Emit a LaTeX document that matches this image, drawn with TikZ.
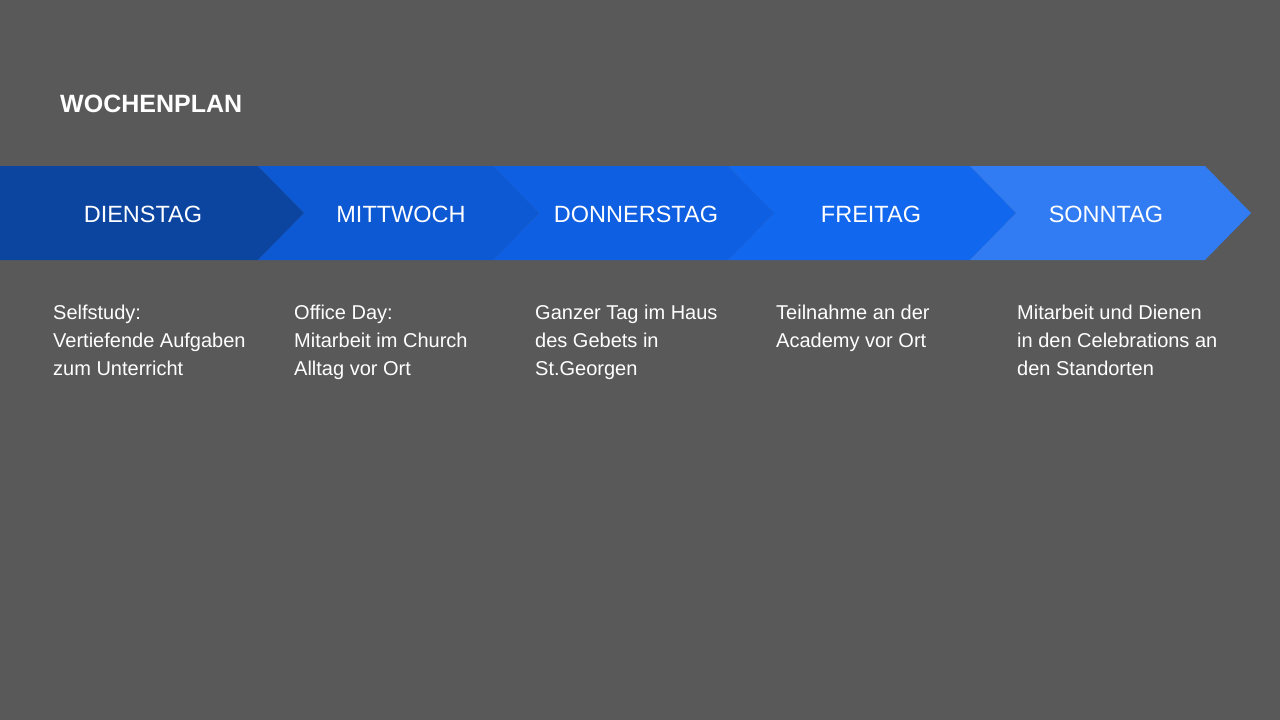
\documentclass[tikz,border=0pt]{standalone}
\usepackage{fontspec}
\setmainfont{Liberation Sans}
\usetikzlibrary{positioning}
\definecolor{bggrey}{HTML}{595959}
\definecolor{dayA}{HTML}{0B45A0}
\definecolor{dayB}{HTML}{0D58D3}
\definecolor{dayC}{HTML}{0E5FE1}
\definecolor{dayD}{HTML}{1267EF}
\definecolor{dayE}{HTML}{317CF2}
\tikzset{
  daylabel/.style={text=white, font=\fontsize{23.5}{23.5}\selectfont, inner sep=0pt},
  notetext/.style={text=white, font=\fontsize{20}{28}\selectfont, align=left, anchor=north west, inner sep=0pt},
}
\begin{document}
\begin{tikzpicture}[x=1pt,y=-1pt]
        \fill[bggrey] (0,0) rectangle (1280,720);
        \node[anchor=west, text=white, font=\bfseries\fontsize{25}{25}\selectfont, inner sep=0pt] (title) at (60,104) {WOCHENPLAN};
        % chevrons
        \fill[dayA] (0,166) -- (258,166) -- (304,213) -- (258,260) -- (0,260) -- cycle;
        \foreach \xl/\xr/\col in {258/493/dayB, 493/728/dayC, 728/970/dayD, 970/1205/dayE}{
            \fill[\col] (\xl,166) -- (\xr,166) -- (\xr+46,213) -- (\xr,260) -- (\xl,260) -- (\xl+46,213) -- cycle;
        }
        \node[daylabel] (dienstag) at (143,214) {DIENSTAG};
        \node[daylabel] (mittwoch) at (401,214) {MITTWOCH};
        \node[daylabel] (donnerstag) at (636,214) {DONNERSTAG};
        \node[daylabel] (freitag) at (871,214) {FREITAG};
        \node[daylabel] (sonntag) at (1106,214) {SONNTAG};
        % notes
        \node[notetext] (noteA) at (53,305) {Selfstudy:\\Vertiefende Aufgaben\\zum Unterricht};
        \node[notetext] (noteB) at (294,305) {Office Day:\\Mitarbeit im Church\\Alltag vor Ort};
        \node[notetext] (noteC) at (535,305) {Ganzer Tag im Haus\\des Gebets in\\St.Georgen};
        \node[notetext] (noteD) at (776,305) {Teilnahme an der\\Academy vor Ort};
        \node[notetext] (noteE) at (1017,305) {Mitarbeit und Dienen\\in den Celebrations an\\den Standorten};
\end{tikzpicture}
\end{document}
